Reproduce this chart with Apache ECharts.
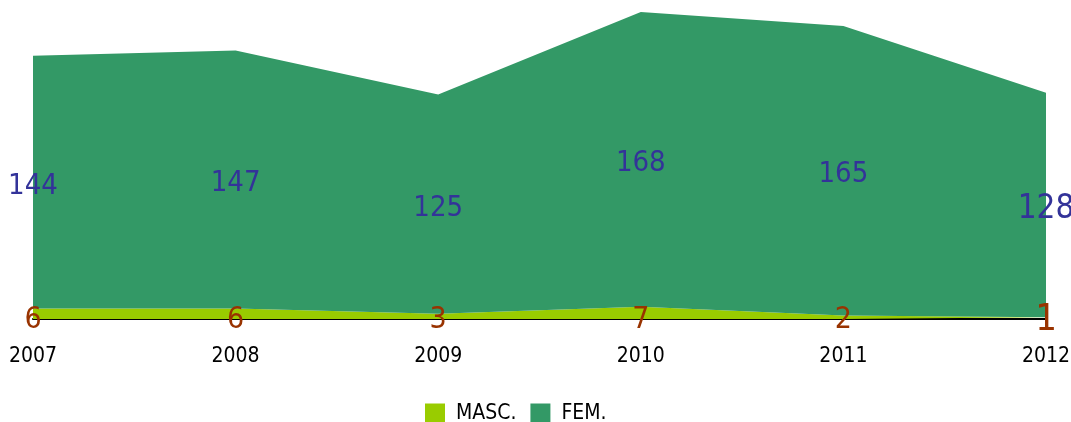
<!DOCTYPE html>
<html>
<head>
<meta charset="utf-8">
<script src="https://cdn.jsdelivr.net/npm/echarts@6/dist/echarts.min.js"></script>
<style>
  html, body { margin: 0; padding: 0; background: #fff; }
  #chart { width: 1071px; height: 422px; }
</style>
</head>
<body>
<div id="chart"></div>
<script>
const years = ['2007', '2008', '2009', '2010', '2011', '2012'];
const masc = [6, 6, 3, 7, 2, 1];
const fem = [144, 147, 125, 168, 165, 128];

const font = "'DejaVu Sans Condensed', 'DejaVu Sans', sans-serif";
const last = years.length - 1;

// label points: FEM in the middle of its band, MASC on the baseline
const femLabels = fem.map((v, i) => ({
    value: [i, masc[i] + v / 2],
    label: { fontSize: i === last ? 33 : 29 }
}));
const mascLabels = masc.map((v, i) => ({
    value: [i, 0],
    label: { fontSize: i === last ? 38 : 30 }
}));

const chart = echarts.init(document.getElementById('chart'));
chart.setOption({
    animation: false,
    grid: { left: 33, right: 25, top: 12, bottom: 103, outerBoundsMode: 'none' },
    legend: {
        top: 398,
        left: 420,
        itemWidth: 20,
        itemHeight: 20,
        itemGap: 14,
        icon: 'rect',
        data: ['MASC.', 'FEM.'],
        textStyle: { fontFamily: font, fontSize: 21, color: '#000', padding: [0, 0, 0, 6] }
    },
    xAxis: {
        type: 'category',
        data: years,
        boundaryGap: false,
        axisLine: { lineStyle: { color: '#000', width: 2 } },
        axisTick: { show: false },
        axisLabel: { fontFamily: font, fontSize: 21, color: '#000', margin: 27 }
    },
    yAxis: {
        type: 'value',
        min: 0,
        max: 175,
        show: false,
        splitLine: { show: false }
    },
    series: [
        {
            name: 'MASC.',
            type: 'line',
            stack: 'total',
            data: masc,
            symbol: 'none',
            lineStyle: { width: 0 },
            itemStyle: { color: '#99cc00' },
            areaStyle: { color: '#99cc00', opacity: 1 }
        },
        {
            name: 'FEM.',
            type: 'line',
            stack: 'total',
            data: fem,
            symbol: 'none',
            lineStyle: { width: 0 },
            itemStyle: { color: '#339966' },
            areaStyle: { color: '#339966', opacity: 1 }
        },
        {
            type: 'scatter',
            data: femLabels,
            symbolSize: 0,
            silent: true,
            z: 5,
            itemStyle: { opacity: 1 },
            label: {
                show: true,
                position: 'inside',
                offset: [0, 4],
                fontFamily: font,
                color: '#333399',
                formatter: p => fem[p.dataIndex]
            }
        },
        {
            type: 'scatter',
            data: mascLabels,
            symbolSize: 0,
            silent: true,
            z: 5,
            itemStyle: { opacity: 1 },
            label: {
                show: true,
                position: 'inside',
                offset: [0, 1],
                fontFamily: font,
                color: '#993300',
                formatter: p => masc[p.dataIndex]
            }
        }
    ]
});
</script>
</body>
</html>
